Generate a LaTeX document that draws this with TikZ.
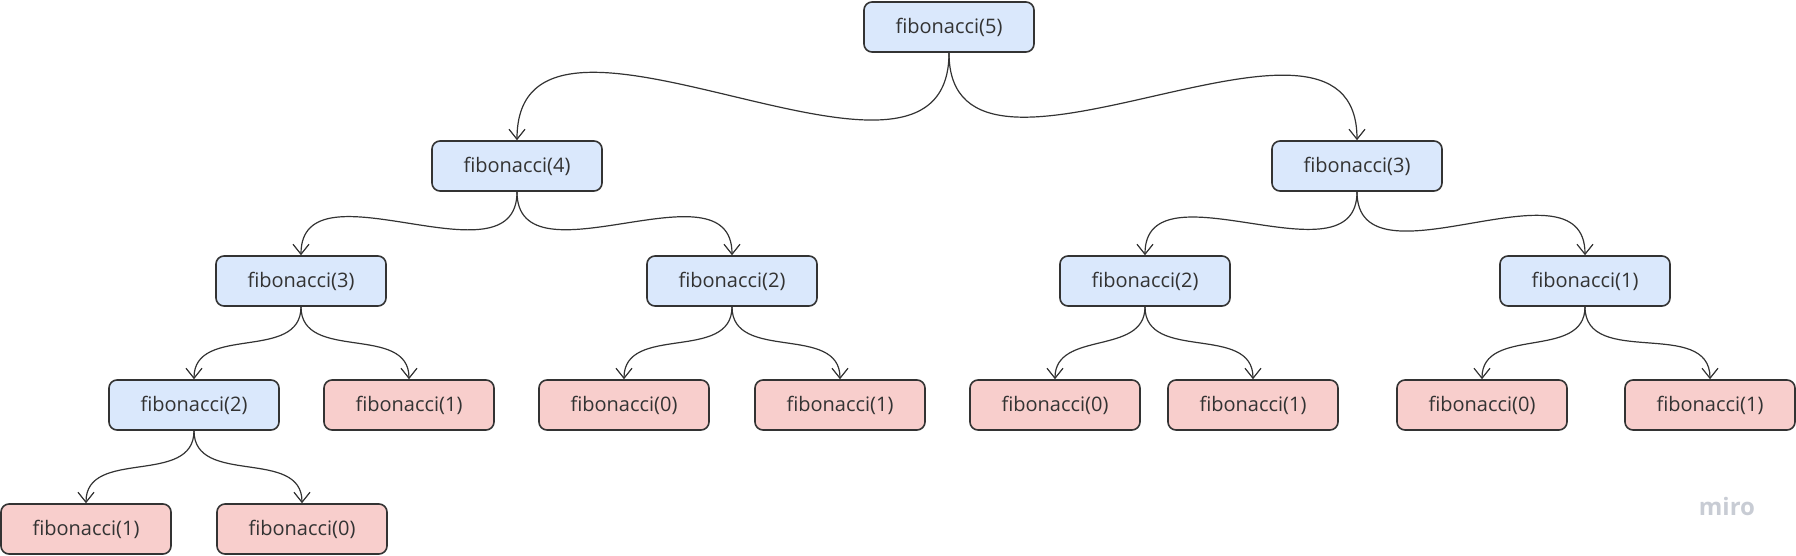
\documentclass[tikz,border=0pt]{standalone}
\usepackage{fontspec}
\setmainfont{Open Sans}
\usetikzlibrary{arrows.meta}
\definecolor{callfill}{RGB}{218,232,252}
\definecolor{basefill}{RGB}{248,206,204}
\definecolor{boxline}{RGB}{51,51,51}
\definecolor{mirogray}{RGB}{200,204,212}

\begin{document}
\begin{tikzpicture}[x=0.5pt,y=-0.5pt,->,>={Straight Barb[length=5pt,width=8pt]},
  line width=0.6pt,draw=boxline,
  call node/.style={rectangle,rounded corners=4pt,draw=boxline,line width=0.8pt,
    fill=callfill,text=boxline,minimum width=85pt,minimum height=25pt,inner sep=0pt,
    font=\fontsize{10}{12}\selectfont},
  base node/.style={call node,fill=basefill}]

  \useasboundingbox (0,0) rectangle (1796,556);

  \node[call node] (1) at (949,27) {fibonacci(5)};
  \node[call node] (2) at (517,166) {fibonacci(4)};
  \node[call node] (3) at (1357,166) {fibonacci(3)};
  \node[call node] (4) at (301,281) {fibonacci(3)};
  \node[call node] (5) at (732,281) {fibonacci(2)};
  \node[call node] (6) at (1145,281) {fibonacci(2)};
  \node[call node] (7) at (1585,281) {fibonacci(1)};
  \node[call node] (8) at (194,405) {fibonacci(2)};
  \node[base node] (9) at (409,405) {fibonacci(1)};
  \node[base node] (10) at (624,405) {fibonacci(0)};
  \node[base node] (11) at (840,405) {fibonacci(1)};
  \node[base node] (12) at (1055,405) {fibonacci(0)};
  \node[base node] (13) at (1253,405) {fibonacci(1)};
  \node[base node] (14) at (1482,405) {fibonacci(0)};
  \node[base node] (15) at (1710,405) {fibonacci(1)};
  \node[base node] (16) at (86,529) {fibonacci(1)};
  \node[base node] (17) at (302,529) {fibonacci(0)};

  \node[text=mirogray,font=\bfseries\fontsize{12}{12}\selectfont] (miro) at (1727,506) {miro};

  \path[out=-90,in=90,looseness=1.1]
    (1) edge (2)
        edge (3)
    (2) edge (4)
        edge (5)
    (3) edge (6)
        edge (7)
    (4) edge (8)
        edge (9)
    (5) edge (10)
        edge (11)
    (6) edge (12)
        edge (13)
    (7) edge (14)
        edge (15)
    (8) edge (16)
        edge (17)
    ;
\end{tikzpicture}
\end{document}
